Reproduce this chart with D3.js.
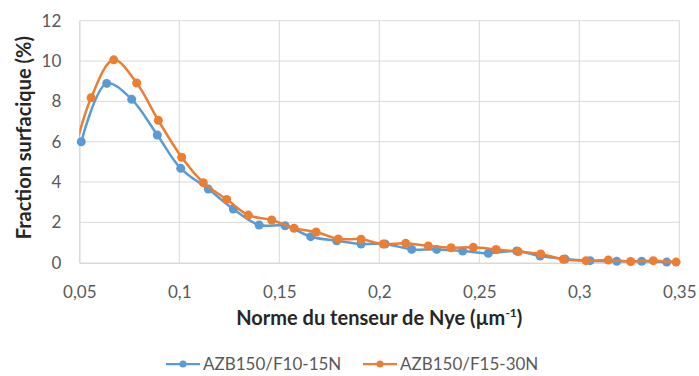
<!DOCTYPE html>
<html><head><meta charset="utf-8">
<script src="https://cdn.jsdelivr.net/npm/d3@7"></script>
<style>body{margin:0;background:#fff}svg{display:block}</style>
</head><body>
<svg id="c" width="699" height="376"></svg>
<script>
const seriesNames = ["AZB150/F10-15N", "AZB150/F15-30N"];
const colors = ["#5b9bd5", "#ed7d31"];
const blueX = [0.051,0.0637,0.0762,0.089,0.1007,0.1145,0.127,0.1399,0.1529,0.1657,0.1787,0.1909,0.2029,0.2162,0.2287,0.2417,0.2545,0.2687,0.2804,0.2929,0.3054,0.3187,0.3312,0.3437];
const blueY = [6.0,8.89,8.1,6.33,4.68,3.65,2.66,1.87,1.83,1.29,1.09,0.93,0.93,0.66,0.66,0.58,0.47,0.58,0.33,0.18,0.1,0.07,0.07,0.03];
const orangeX = [0.0445,0.0559,0.0672,0.0787,0.0895,0.1012,0.112,0.1237,0.1345,0.1462,0.1574,0.1684,0.1795,0.1909,0.202,0.2132,0.2245,0.2359,0.247,0.2584,0.2695,0.2807,0.292,0.3034,0.3145,0.3257,0.337,0.3484];
const orangeY = [4.3,8.18,10.06,8.91,7.06,5.23,3.97,3.14,2.36,2.12,1.71,1.52,1.18,1.16,0.93,0.96,0.83,0.74,0.76,0.66,0.55,0.43,0.17,0.1,0.13,0.06,0.1,0.03];
const xTicks = [0.05,0.1,0.15,0.2,0.25,0.3,0.35];
const yTicks = [0,2,4,6,8,10,12];
const xTitle = "Norme du tenseur de Nye (µm";
const yTitle = "Fraction surfacique (%)";

const svg = d3.select("#c");
const L = 79.3, R = 679.3, T = 20.7, B = 262.7;
const x = d3.scaleLinear().domain([0.05, 0.35]).range([L, R]);
const y = d3.scaleLinear().domain([0, 12]).range([B, T]);
const font = "Lato, 'Open Sans', sans-serif";
const fmt = d => String(d).replace(".", ",");

// gridlines
svg.append("g").selectAll("line").data(yTicks.slice(1)).join("line")
  .attr("x1", L).attr("x2", R).attr("y1", d => y(d)).attr("y2", d => y(d))
  .attr("stroke", "#d9d9d9").attr("stroke-width", 1);
svg.append("g").selectAll("line").data(xTicks.slice(1)).join("line")
  .attr("y1", T).attr("y2", B).attr("x1", d => x(d)).attr("x2", d => x(d))
  .attr("stroke", "#d9d9d9").attr("stroke-width", 1);

// axes
const xAxis = svg.append("g").attr("transform", `translate(0,${B})`)
  .call(d3.axisBottom(x).tickValues(xTicks).tickFormat(fmt).tickSize(0).tickPadding(23));
const yAxis = svg.append("g").attr("transform", `translate(${L},0)`)
  .call(d3.axisLeft(y).tickValues(yTicks).tickSize(0).tickPadding(18));
[xAxis, yAxis].forEach(g => {
  g.select(".domain").attr("stroke", "#d9d9d9").attr("stroke-width", 1.5);
  g.selectAll("text").attr("fill", "#595959").style("font-family", font).style("font-size", "17px");
});

// clip
svg.append("clipPath").attr("id", "clip").append("rect")
  .attr("x", L).attr("y", 0).attr("width", R - L + 10).attr("height", B + 5);

const series = [
  {xs: blueX, ys: blueY, color: colors[0]},
  {xs: orangeX, ys: orangeY, color: colors[1]}
];
const line = d3.line().x(d => x(d[0])).y(d => y(d[1])).curve(d3.curveCatmullRom.alpha(0.5));
series.forEach(s => {
  const pts = s.xs.map((v, i) => [v, s.ys[i]]);
  svg.append("path").attr("d", line(pts)).attr("fill", "none")
    .attr("stroke", s.color).attr("stroke-width", 2.5).attr("clip-path", "url(#clip)");
  svg.append("g").selectAll("circle").data(pts.filter(p => p[0] >= 0.05)).join("circle")
    .attr("cx", d => x(d[0])).attr("cy", d => y(d[1])).attr("r", 4.5)
    .attr("fill", s.color);
});

// titles
const xt = svg.append("text").attr("x", (L + R) / 2).attr("y", 325).attr("text-anchor", "middle")
  .attr("fill", "#262626").style("font-family", font).style("font-size", "20px").style("font-weight", "bold");
xt.append("tspan").text(xTitle);
xt.append("tspan").attr("dy", -8).style("font-size", "12px").text("-1");
xt.append("tspan").attr("dy", 8).text(")");
svg.append("text").attr("transform", `translate(31,${(T + B) / 2 - 4}) rotate(-90)`)
  .attr("text-anchor", "middle").attr("fill", "#262626")
  .style("font-family", font).style("font-size", "20px").style("font-weight", "bold").text(yTitle);

// legend
const legX = [166, 363];
seriesNames.forEach((n, i) => {
  const g = svg.append("g").attr("transform", `translate(${legX[i]},364)`);
  g.append("line").attr("x1", 0).attr("x2", 34).attr("stroke", colors[i]).attr("stroke-width", 2.25);
  g.append("circle").attr("cx", 17).attr("r", 3.5).attr("fill", colors[i]);
  g.append("text").attr("x", 37).attr("y", 6).attr("fill", "#595959")
    .style("font-family", font).style("font-size", "17px").text(n);
});
</script>
</body></html>
